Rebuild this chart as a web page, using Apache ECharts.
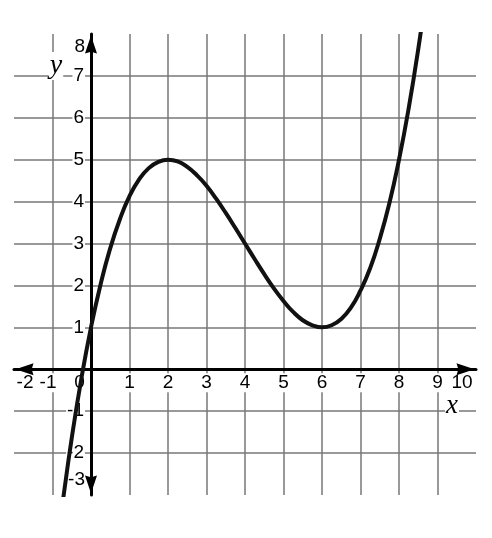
<!DOCTYPE html>
<html>
<head>
<meta charset="utf-8">
<script src="https://cdn.jsdelivr.net/npm/echarts@6/dist/echarts.min.js"></script>
<style>html,body{margin:0;padding:0;background:#fff}#c{width:492px;height:538px}</style>
</head>
<body>
<div id="c"></div>
<script>
// Data
const curveX = [-0.8, -0.75, -0.5, -0.25, 0, 0.25, 0.5, 0.75, 1, 1.25, 1.5, 1.75, 2, 2.25, 2.5, 2.75, 3, 3.25, 3.5, 3.75, 4, 4.25, 4.5, 4.75, 5, 5.25, 5.5, 5.75, 6, 6.25, 6.5, 6.75, 7, 7.25, 7.5, 7.75, 8, 8.25, 8.5, 8.75];
const curveY = [-3.6, -3.27, -1.64, -0.22, 1, 2.03, 2.89, 3.58, 4.13, 4.53, 4.8, 4.95, 5, 4.96, 4.83, 4.63, 4.38, 4.07, 3.73, 3.37, 3, 2.63, 2.27, 1.93, 1.63, 1.37, 1.17, 1.05, 1, 1.05, 1.2, 1.47, 1.88, 2.41, 3.11, 3.96, 5, 6.22, 7.64, 9.27];
const xTickLabels = ['-2', '-1', '0', '1', '2', '3', '4', '5', '6', '7', '8', '9', '10'];
const yTickLabels = ['-3', '-2', '-1', '', '1', '2', '3', '4', '5', '6', '7', '8'];
const xName = 'x';
const yName = 'y';

const FONT = 'Liberation Sans, Arial, Helvetica, sans-serif';
const SERIF = 'Liberation Serif, DejaVu Serif, Times New Roman, serif';
const FS = 19;
const W = 492, H = 538;
const GRID = { left: 14, right: 16, top: 34, bottom: 43, containLabel: false, outerBoundsMode: 'none' };
const X_MIN = -2, X_MAX = 10, Y_MIN = -3, Y_MAX = 8;

// place the axis lines through the origin (x = 0, y = 0)
const gridW = W - GRID.left - GRID.right;
const gridH = H - GRID.top - GRID.bottom;
const yAxisOffset = -gridW * (0 - X_MIN) / (X_MAX - X_MIN);
const xAxisOffset = -gridH * (0 - Y_MIN) / (Y_MAX - Y_MIN);

function tok(extra) {
  return Object.assign({ fontFamily: FONT, fontSize: FS, color: '#000' }, extra);
}
const WHITE = { backgroundColor: '#fff' };
const ARROW = 'path://M10,0 L20,30 L10,27 L0,30 Z';
const ARROW_SIZE = [12, 21];
const ARROW_OFFSET = [10.5, -10.5];

const chart = echarts.init(document.getElementById('c'), null, { renderer: 'canvas' });
chart.setOption({
  animation: false,
  backgroundColor: '#fff',
  grid: [
    Object.assign({}, GRID),
    Object.assign({}, GRID)
  ],
  xAxis: [
    {
      gridIndex: 0, type: 'value', min: X_MIN, max: X_MAX, interval: 1, z: 0,
      axisLine: { show: false }, axisTick: { show: false }, axisLabel: { show: false },
      splitLine: { show: true, showMinLine: false, showMaxLine: false, lineStyle: { color: '#777', width: 1.5 } }
    },
    {
      gridIndex: 1, type: 'value', min: X_MIN, max: X_MAX, interval: 1, z: 1,
      position: 'bottom', offset: xAxisOffset,
      axisLine: {
        show: true, onZero: false, symbol: [ARROW, ARROW], symbolSize: ARROW_SIZE, symbolOffset: ARROW_OFFSET,
        lineStyle: { color: '#000', width: 3 }
      },
      axisTick: { show: false },
      splitLine: { show: false },
      axisLabel: {
        margin: 4,
        fontFamily: FONT, fontSize: FS, color: '#000',
        formatter: function (v) {
          const s = xTickLabels[Math.round(v - X_MIN)];
          if (v === -2) return '{l|' + s + '}';
          if (v === -1) return '{m|' + s + '}';
          if (v === 0) return '{z|' + s + '}';
          if (v === 10) return '{r|' + s + '}';
          return '{n|' + s + '}';
        },
        rich: {
          n: tok(Object.assign({ padding: [0, 1] }, WHITE)),
          l: tok(Object.assign({ padding: [0, 0, 0, 22] }, WHITE)),
          m: tok(Object.assign({ padding: [0, 9, 0, 0] }, WHITE)),
          z: tok({ padding: [0, 23, 0, 0] }),
          r: tok({ padding: [0, 28, 0, 0] })
        }
      },
      name: '{a|' + xName + '}',
      nameLocation: 'end',
      nameGap: -31,
      nameTextStyle: {
        padding: [74, 0, 0, 0],
        rich: { a: { fontFamily: SERIF, fontStyle: 'italic', fontSize: 27, color: '#000', backgroundColor: '#fff', padding: [0, 1] } }
      }
    }
  ],
  yAxis: [
    {
      gridIndex: 0, type: 'value', min: Y_MIN, max: Y_MAX, interval: 1, z: 0,
      axisLine: { show: false }, axisTick: { show: false }, axisLabel: { show: false },
      splitLine: { show: true, showMinLine: false, showMaxLine: false, lineStyle: { color: '#777', width: 1.5 } }
    },
    {
      gridIndex: 1, type: 'value', min: Y_MIN, max: Y_MAX, interval: 1, z: 1,
      position: 'left', offset: yAxisOffset,
      axisLine: {
        show: true, onZero: false, symbol: [ARROW, ARROW], symbolSize: ARROW_SIZE, symbolOffset: ARROW_OFFSET,
        lineStyle: { color: '#000', width: 3 }
      },
      axisTick: { show: false },
      splitLine: { show: false },
      axisLabel: {
        margin: 6,
        fontFamily: FONT, fontSize: FS, color: '#000',
        formatter: function (v) {
          const s = yTickLabels[Math.round(v - Y_MIN)];
          if (!s) return '';
          if (v === Y_MAX) return '{t|' + s + '}';
          if (v === Y_MIN) return '{b|' + s + '}';
          return '{n|' + s + '}';
        },
        rich: {
          n: tok(Object.assign({ padding: [0, 1] }, WHITE)),
          t: tok({ padding: [26, 0, 0, 0] }),
          b: tok({ padding: [0, 0, 30, 0] })
        }
      },
      name: '{a|' + yName + '}',
      nameLocation: 'end',
      nameGap: -46,
      nameTextStyle: {
        padding: [0, 70, 0, 0],
        rich: { a: { fontFamily: SERIF, fontStyle: 'italic', fontSize: 28, color: '#000', backgroundColor: '#fff', padding: [0, 1] } }
      }
    }
  ],
  series: [
    {
      type: 'line',
      xAxisIndex: 1, yAxisIndex: 1,
      data: curveX.map(function (x, i) { return [x, curveY[i]]; }),
      smooth: true,
      showSymbol: false,
      clip: true,
      z: 3,
      lineStyle: { color: '#111', width: 4 }
    }
  ]
});
</script>
</body>
</html>
